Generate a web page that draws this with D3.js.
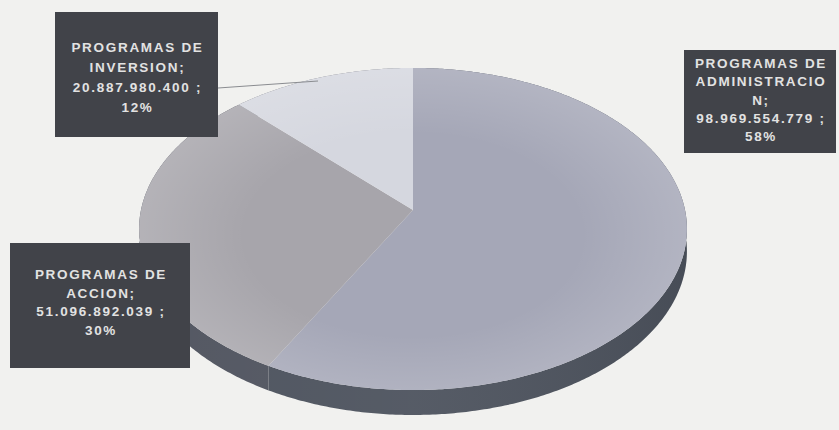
<!DOCTYPE html>
<html>
<head>
<meta charset="utf-8">
<script src="https://cdn.jsdelivr.net/npm/d3@7"></script>
<style>
  html, body { margin: 0; padding: 0; background: #f1f1ef; }
  svg { display: block; }
  .lbl { font-family: "Liberation Sans", Arial, sans-serif; font-weight: bold; font-size: 13.5px; letter-spacing: 1.7px; fill: #e2e2e2; }
</style>
</head>
<body>
<script>
// Budget split by programme type
const categories = ["PROGRAMAS DE ADMINISTRACION", "PROGRAMAS DE ACCION", "PROGRAMAS DE INVERSION"];
const values = [98969554779, 51096892039, 20887980400];
// wrapped name lines as printed inside each label box
const nameLines = [
  ["PROGRAMAS DE", "ADMINISTRACIO", "N;"],
  ["PROGRAMAS DE", "ACCION;"],
  ["PROGRAMAS DE", "INVERSION;"]
];
const topColors = ["#a5a7b7", "#a7a5ab", "#d5d7df"];
const wallColors = ["#4d535e", "#515560", "#6a6c74"];

const W = 839, H = 430;
const svg = d3.select("body").append("svg").attr("width", W).attr("height", H);

const locale = d3.formatLocale({ decimal: ",", thousands: ".", grouping: [3], currency: ["$", ""] });
const fmtVal = locale.format(",d");
const fmtPct = d3.format(".0%");
const total = d3.sum(values);

const pie = d3.pie().sort(null).value(d => d);
const arcs = pie(values);

// perspective projection of a tilted disc: angle measured clockwise from the far point
const CX = 413, CY = 210, KX = 272, KY = 158.8, KT = 22, A = 0.118;
function proj(theta, depth) {
  const u = Math.sin(theta), v = Math.cos(theta);
  const p = 1 / (1 + A * v);
  return [CX + KX * u * p, CY + (-KY * v + KT * depth) * p];
}
function rim(a0, a1, depth) {
  const n = Math.max(2, Math.ceil((a1 - a0) / 0.01));
  return d3.range(n + 1).map(i => proj(a0 + (a1 - a0) * i / n, depth));
}
const line = d3.line();

const defs = svg.append("defs");
const wg = defs.append("linearGradient").attr("id", "wallShade").attr("x1", "0").attr("x2", "1").attr("y1", "0").attr("y2", "0");
wg.append("stop").attr("offset", "0").attr("stop-color", "#fff").attr("stop-opacity", 0.02);
wg.append("stop").attr("offset", "0.5").attr("stop-color", "#fff").attr("stop-opacity", 0.05);
wg.append("stop").attr("offset", "1").attr("stop-color", "#000").attr("stop-opacity", 0.08);

const rg = defs.append("radialGradient").attr("id", "topShade")
  .attr("gradientUnits", "userSpaceOnUse").attr("cx", CX).attr("cy", CY + 25).attr("r", 280)
  .attr("gradientTransform", `translate(${CX},${CY + 25}) scale(1,0.6) translate(${-CX},${-(CY + 25)})`);
rg.append("stop").attr("offset", "0.6").attr("stop-color", "#fff").attr("stop-opacity", 0);
rg.append("stop").attr("offset", "1").attr("stop-color", "#fff").attr("stop-opacity", 0.16);

// side walls (back portions end up under the top face)
const gWall = svg.append("g");
arcs.forEach((a, i) => {
  const top = rim(a.startAngle, a.endAngle, 0);
  const bot = rim(a.startAngle, a.endAngle, 1).reverse();
  gWall.append("path").attr("d", line(top.concat(bot)) + "Z").attr("fill", wallColors[i]);
});
const wallAll = rim(Math.PI / 2, 3 * Math.PI / 2, 0).concat(rim(Math.PI / 2, 3 * Math.PI / 2, 1).reverse());
gWall.append("path").attr("d", line(wallAll) + "Z").attr("fill", "url(#wallShade)");

// top faces
const gTop = svg.append("g");
arcs.forEach((a, i) => {
  const pts = [[CX, CY]].concat(rim(a.startAngle, a.endAngle, 0));
  gTop.append("path").attr("d", line(pts) + "Z").attr("fill", topColors[i]);
});
gTop.append("path").attr("d", line(rim(0, 2 * Math.PI, 0)) + "Z").attr("fill", "url(#topShade)");

// leader line for the small slice
svg.append("line").attr("x1", 218).attr("y1", 88).attr("x2", 318).attr("y2", 81)
  .attr("stroke", "#8a8c90").attr("stroke-width", 1);

// label boxes
const boxes = [
  { x: 684, y: 50, w: 152, h: 103, ty: 63, dy: 18.3 },
  { x: 10, y: 243, w: 180, h: 125, ty: 274, dy: 18.7 },
  { x: 55, y: 12, w: 163, h: 125, ty: 47, dy: 20 }
];
const gLbl = svg.append("g");
arcs.forEach((a, i) => {
  const b = boxes[i];
  gLbl.append("rect").attr("x", b.x).attr("y", b.y).attr("width", b.w).attr("height", b.h).attr("fill", "#414349");
  const lines = nameLines[i].concat([fmtVal(values[i]) + " ;", fmtPct(values[i] / total)]);
  const t = gLbl.append("text").attr("class", "lbl").attr("text-anchor", "middle");
  lines.forEach((s, k) => {
    t.append("tspan").attr("x", b.x + b.w / 2 + 1).attr("y", b.ty + k * b.dy + 5).text(s);
  });
});
</script>
</body>
</html>
